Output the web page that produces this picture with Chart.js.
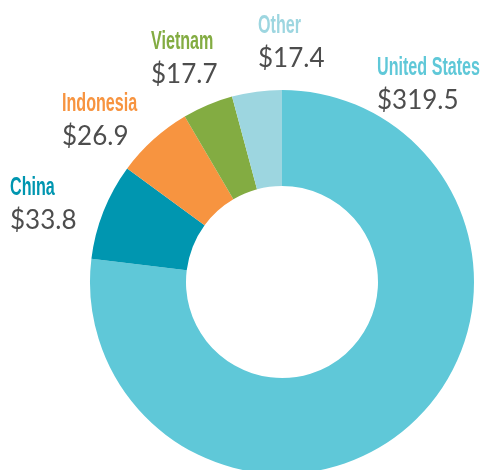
<!DOCTYPE html>
<html>
<head>
<meta charset="utf-8">
<script src="https://cdn.jsdelivr.net/npm/chart.js@4"></script>
<style>
  html, body { margin: 0; padding: 0; background: #fff; overflow: hidden; }
  #wrap { width: 482px; height: 480px; position: relative; }
</style>
</head>
<body>
<div id="wrap"><canvas id="exportChart"></canvas></div>
<script>
const countries = ["United States", "China", "Indonesia", "Vietnam", "Other"];
const values = [319.5, 33.8, 26.9, 17.7, 17.4];
const valueLabels = ["$319.5", "$33.8", "$26.9", "$17.7", "$17.4"];
const colors = ["#5fc8d8", "#0096b0", "#f79440", "#83ac42", "#9dd6e0"];

// where each label block sits (left x, name baseline)
const labelSpots = {
  "United States": [377, 75],
  "China": [10, 195],
  "Indonesia": [62, 111],
  "Vietnam": [151, 49],
  "Other": [258, 33]
};

const labelPlugin = {
  id: 'sliceLabels',
  afterDraw(chart) {
    const ctx = chart.ctx;
    countries.forEach((name, i) => {
      const spot = labelSpots[name];
      ctx.save();
      ctx.textBaseline = 'alphabetic';
      ctx.textAlign = 'left';
      ctx.fillStyle = colors[i];
      ctx.font = 'bold 26px "Liberation Sans", Arial, sans-serif';
      ctx.translate(spot[0], spot[1]);
      ctx.scale(0.62, 1);
      ctx.fillText(name, 0, 0);
      ctx.restore();

      ctx.save();
      ctx.fillStyle = '#4d4d4d';
      ctx.font = '26px Lato';
      ctx.fillText(valueLabels[i], spot[0], spot[1] + 34);
      ctx.restore();
    });
  }
};

const ctx = document.getElementById('exportChart').getContext('2d');
new Chart(ctx, {
  type: 'doughnut',
  data: {
    labels: countries,
    datasets: [{
      data: values,
      backgroundColor: colors,
      borderWidth: 0,
      hoverOffset: 0
    }]
  },
  options: {
    responsive: true,
    maintainAspectRatio: false,
    animation: false,
    events: [],
    cutout: '50%',
    layout: {
      padding: { left: 90, top: 90, right: 8, bottom: 6 }
    },
    plugins: {
      legend: { display: false },
      tooltip: { enabled: false }
    }
  },
  plugins: [labelPlugin]
});
</script>
</body>
</html>
